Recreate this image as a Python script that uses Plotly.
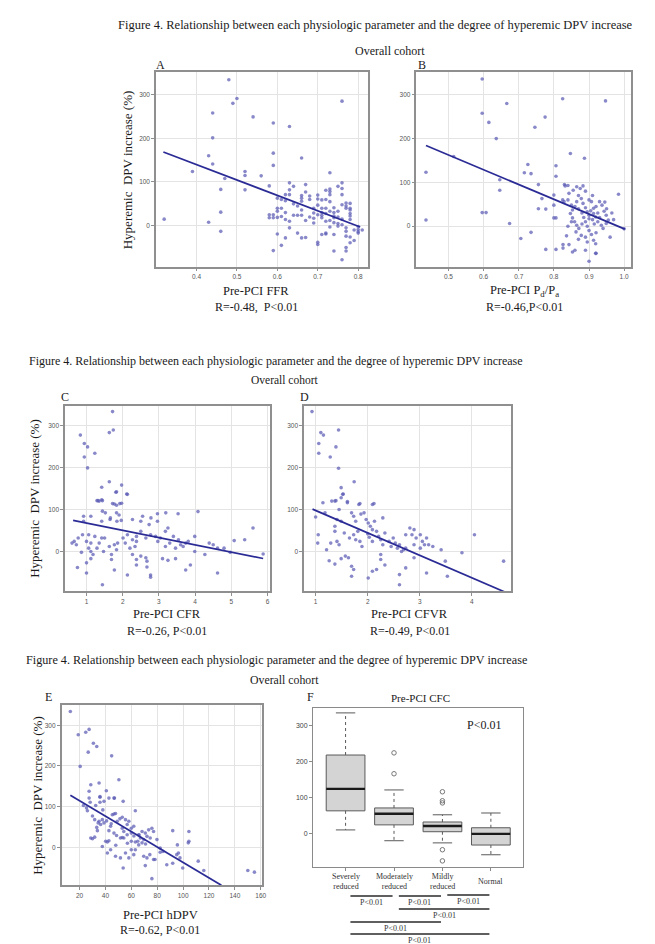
import plotly.graph_objects as go

# ======================= DATA =======================
# Panel A: Pre-PCI FFR vs hyperemic DPV increase (%)
A_x = [0.48,0.50,0.49,0.44,0.54,0.44,0.59,0.63,0.59,0.43,0.44,0.59,0.66,0.39,0.52,0.52,0.56,0.47,0.46,0.52,
       0.58,0.32,0.43,0.46,0.46,0.73,0.73,0.76,0.76,0.76,0.76,0.76,0.78,0.78,0.78,0.76,0.77,0.80,0.81,0.78,
       0.78,0.58,0.58,0.59,0.59,0.59,0.60,0.60,0.60,0.60,0.60,0.61,0.61,0.61,0.62,0.62,0.62,0.62,0.63,0.63,
       0.63,0.64,0.63,0.63,0.64,0.65,0.66,0.65,0.66,0.67,0.66,0.66,0.66,0.67,0.67,0.68,0.69,0.69,0.69,0.70,
       0.70,0.70,0.70,0.71,0.71,0.71,0.71,0.72,0.71,0.72,0.72,0.72,0.73,0.73,0.72,0.73,0.74,0.74,0.74,0.75,
       0.74,0.74,0.75,0.74,0.75,0.75,0.76,0.77,0.77,0.77,0.77,0.77,0.77,0.77,0.78,0.78,0.79,0.80,0.80,0.78,
       0.79,0.80,0.68,0.67,0.70,0.71,0.72,0.73,0.73,0.69,0.66,0.64,0.65,0.68,0.70,0.72,0.73,0.75,0.76,0.74,
       0.62,0.61]
A_y = [334,291,280,258,249,201,235,227,166,160,141,138,155,124,124,115,114,108,83,82,
       91,15,8,31,-13,121,84,285,98,85,71,48,51,36,28,2,-5,-9,-10,-26,
       -39,25,18,25,18,-57,63,40,33,19,-19,40,21,-45,71,57,14,-28,82,71,
       98,90,10,-5,24,24,24,-17,-28,-27,56,69,63,77,94,60,40,29,17,-38,
       -43,47,61,59,40,24,18,10,-20,-19,-17,81,78,71,40,33,22,18,7,-1,
       41,30,33,-58,90,5,-78,-24,-13,52,45,40,-50,-58,22,14,-10,-17,-2,40,
       -34,-14,20,12,25,30,28,12,-3,6,36,50,45,68,70,60,55,20,15,-20,
       30,60]

# Panel B: Pre-PCI Pd/Pa
B_x = [0.596,0.596,0.615,0.666,0.636,0.775,0.746,0.825,0.947,0.847,0.887,0.436,0.436,0.515,0.726,0.716,0.735,0.806,0.806,0.646,
       0.646,0.756,0.83,0.832,0.84,0.596,0.607,0.674,0.706,0.735,0.766,0.756,0.777,0.806,0.825,0.806,0.777,0.836,0.843,0.826,
       0.86,0.89,0.92,0.843,0.855,0.865,0.875,0.883,0.89,0.829,0.84,0.85,0.853,0.865,0.878,0.883,0.89,0.895,0.90,0.90,
       0.907,0.913,0.913,0.919,0.925,0.93,0.937,0.943,0.949,0.955,0.949,0.847,0.853,0.859,0.865,0.871,0.863,0.878,0.89,0.895,
       0.907,0.913,0.919,0.984,0.96,0.90,0.919,0.853,0.826,0.80,0.80,0.80,0.87,0.88,0.885,0.89,0.895,0.90,0.905,0.91,
       0.915,0.92,0.925,0.93,0.935,0.94,0.87,0.86,0.85,0.84,0.88,0.87,0.90,0.91,0.92,0.945,0.95,1.0,0.97,0.965]
B_y = [336,258,237,280,200,249,226,291,286,166,155,123,14,159,141,122,120,138,114,106,
       82,95,95,92,93,31,31,6,-28,-14,63,40,39,19,60,-53,-53,-22,-42,-42,
       -55,-55,-62,75,82,90,86,92,80,56,60,48,37,56,63,52,42,33,25,17,
       56,41,29,21,10,56,48,34,25,14,6,29,19,10,2,-5,-13,-21,-25,-36,
       -19,-32,-40,73,-25,-80,-62,-59,-50,19,48,71,40,30,20,10,0,-10,35,15,
       5,45,30,20,2,-5,70,45,10,0,5,-30,60,70,-15,55,40,-6,15,30]

# Panel C: Pre-PCI CFR
C_x = [1.72,0.83,1.63,1.74,0.94,1.03,1.23,0.94,1.03,1.63,1.97,1.42,1.81,2.11,1.32,1.42,1.72,1.92,1.29,1.35,
       1.44,1.44,1.52,1.83,2.13,1.77,1.83,1.97,0.92,0.92,1.12,1.83,1.90,1.66,1.42,1.65,1.84,1.96,2.27,2.50,
       2.73,2.96,2.96,3.19,3.53,2.55,2.78,0.89,1.06,1.23,0.77,0.66,1.00,1.12,0.60,0.72,0.86,1.06,1.12,1.18,
       1.12,1.29,1.35,1.42,1.50,1.47,1.63,1.77,1.86,1.69,1.69,1.83,2.01,2.13,2.27,2.38,2.07,2.20,2.34,2.38,
       2.50,2.64,2.77,2.91,2.97,2.27,2.50,2.64,2.38,2.67,2.38,2.67,2.77,2.77,2.13,1.44,1.00,1.00,0.75,1.77,
       3.04,3.18,3.25,3.40,3.54,3.60,3.18,3.30,3.46,3.67,3.74,3.10,3.25,3.46,3.74,3.81,3.99,3.99,3.87,4.27,
       4.39,4.50,4.08,4.62,4.62,4.97,5.08,5.37,5.60,5.88,4.80]
C_y = [334,278,284,290,258,250,235,226,200,167,159,154,142,138,122,124,115,115,122,121,
       122,97,93,143,137,114,111,116,85,73,85,93,88,81,73,77,73,75,77,73,
       65,91,73,93,91,85,81,41,41,37,33,25,25,21,21,17,-1,9,1,-6,
       -16,9,21,33,33,1,13,17,21,-6,-18,5,33,41,29,37,21,9,13,25,
       49,33,41,37,25,-6,-10,-14,-18,-22,-31,-36,-55,-60,-55,-78,-26,-50,-37,-43,
       33,49,57,37,29,17,13,21,9,13,21,-16,-20,-16,-43,25,37,1,-31,-6,
       21,17,96,9,-50,-1,27,29,57,-5,9]

# Panel D: Pre-PCI CFVR
D_x = [0.93,1.10,1.15,1.06,1.06,1.28,1.44,1.39,1.44,1.74,1.49,1.52,1.39,1.61,1.85,2.12,1.00,1.14,1.05,1.04,
       1.21,1.18,1.31,1.37,1.45,1.41,1.49,1.37,1.29,1.53,1.49,1.61,1.69,1.73,1.77,1.37,1.41,1.45,1.55,1.49,
       1.26,1.37,1.57,1.63,1.69,1.73,1.69,1.65,1.73,1.77,1.81,1.85,1.89,1.83,1.87,1.93,1.97,2.01,2.05,2.09,
       2.00,2.03,2.09,2.13,2.17,2.21,2.25,2.29,2.33,2.09,2.41,2.45,2.49,2.53,2.57,2.61,2.65,2.69,2.29,2.25,
       2.25,2.33,2.17,2.09,2.01,2.61,2.73,2.61,2.73,2.85,2.93,2.73,2.89,3.01,3.09,3.17,3.25,3.41,2.81,2.89,
       2.89,3.13,3.53,3.13,3.49,3.81,4.05,4.61,3.01,3.05]
D_y = [334,284,278,258,235,226,290,250,199,167,153,137,122,120,115,115,83,117,41,21,
       5,93,121,121,101,77,73,61,21,138,129,117,93,85,73,49,25,17,45,-16,
       -21,-29,-10,-14,-34,-42,-58,33,41,29,49,25,13,113,90,93,77,69,61,53,
       43,35,25,73,49,37,29,17,45,113,25,13,33,21,9,17,1,5,81,-6,
       -18,-31,-42,-46,-62,-54,-38,-78,41,41,33,9,17,9,17,17,13,5,57,53,
       -14,-50,-58,33,-22,-2,41,-22,41,25]

# Panel E: Pre-PCI hDPV
E_x = [12.9,19.0,24.8,27.4,26.7,30.7,33.3,20.5,44.8,50.4,28.7,35.1,40.7,47.0,27.4,27.4,28.2,35.8,42.7,53.7,
       35.8,38.9,25.4,26.1,30.0,31.7,23.0,32.5,35.1,36.3,37.6,38.9,40.9,44.0,42.7,33.3,33.8,34.4,28.7,30.0,
       31.7,37.6,40.2,41.5,42.7,45.3,46.6,47.8,46.6,48.6,51.6,53.0,54.2,49.1,51.2,53.0,55.5,56.8,58.1,63.1,
       53.0,54.2,56.8,60.0,60.0,60.0,61.9,63.1,63.1,65.0,65.7,67.0,68.3,69.6,65.7,68.3,70.8,72.1,74.6,73.4,
       75.9,77.2,79.8,60.0,61.9,58.1,55.5,51.6,47.8,41.5,44.0,53.7,69.6,72.1,74.3,77.2,78.3,70.8,75.9,82.3,
       82.3,84.5,87.4,92.0,95.1,96.4,97.6,99.7,92.0,95.6,104.5,104.5,104.0,111.7,116.0,150.0,155.1,35.8,46.6,57.0,
       62.0,48.0,66.0,71.0,38.0,44.5]
E_y = [334,277,283,290,234,256,248,199,225,166,154,158,139,121,138,121,111,125,121,113,
       111,113,97,90,77,68,103,103,64,56,68,60,65,52,41,49,41,60,23,21,
       25,2,15,13,16,80,82,83,35,29,23,24,23,64,70,74,68,56,64,90,
       47,39,31,35,15,47,52,-6,13,15,6,23,11,19,31,39,35,27,23,43,
       47,39,19,-6,-18,-26,-14,-26,-22,-14,-6,-51,-22,-26,-18,-30,-30,-45,-77,-2,
       -12,-10,-43,-39,-18,-14,-26,-51,41,6,39,15,11,-34,-57,-57,-61,123,121,10,
       28,5,30,8,92,58]

# Regression lines (slope, intercept, x-extent) for panels A-E
fit_slope = [-352.0, -337.0, -17.3, -53.4, -1.897]
fit_intercept = [280.5, 331.0, 86.0, 152.0, 152.5]
fit_x0 = [0.318, 0.436, 0.63, 0.94, 12.9]
fit_x1 = [0.805, 1.002, 5.88, 4.63, 129.6]

# Axis ticks
A_ticks = [0.4, 0.5, 0.6, 0.7, 0.8]
B_ticks = [0.5, 0.6, 0.7, 0.8, 0.9, 1.0]
C_ticks = [1, 2, 3, 4, 5, 6]
D_ticks = [1, 2, 3, 4]
E_ticks = [20, 40, 60, 80, 100, 120, 140, 160]
Y_ticks = [0, 100, 200, 300]

# Text
x_titles = ["Pre-PCI FFR", "Pre-PCI P<sub>d</sub>/P<sub>a</sub>", "Pre-PCI CFR", "Pre-PCI CFVR", "Pre-PCI hDPV"]
r_texts = ["R=-0.48,  P<0.01", "R=-0.46,P<0.01", "R=-0.26, P<0.01", "R=-0.49, P<0.01", "R=-0.62, P<0.01"]
panel_letters = ["A", "B", "C", "D", "E", "F"]

# Panel F: boxplot stats by CFC category
F_cats = ["Severely<br>reduced", "Moderately<br>reduced", "Mildly<br>reduced", "Normal"]
F_upper = [336, 122, 53, 58]
F_q3 = [219, 72, 33, 17]
F_med = [125, 56, 22, 0]
F_q1 = [64, 25, 6, -31]
F_lower = [11, -19, -25, -58]
F_out_cat = [2, 2, 3, 3, 3, 3, 3]
F_out_val = [225, 167, 117, 92, 86, -44, -75]
# pairwise comparisons (group i vs group j)
F_cmp_i = [1, 2, 3, 2, 1, 1]
F_cmp_j = [2, 3, 4, 4, 3, 4]
F_cmp_p = ["P<0.01"] * 6

# ======================= LAYOUT HELPERS =======================
W, H = 655, 944
def PX(x): return x / W
def PY(y): return 1 - y / H

SERIF = "Liberation Serif, Times New Roman, serif"
NARROW = "Liberation Sans Narrow, Arial Narrow, Liberation Sans, sans-serif"
SANS = "Liberation Sans, Arial, sans-serif"

fig = go.Figure()
ann = []
shapes = []

def text(x, y, s, size=12, family=SERIF, color="#1a1a1a", angle=0, xanchor="center", yanchor="middle"):
    ann.append(dict(x=PX(x), y=PY(y), xref="paper", yref="paper", text=s, showarrow=False,
                    font=dict(family=family, size=size, color=color), textangle=angle,
                    xanchor=xanchor, yanchor=yanchor))

scatter_panels = [
    dict(x=A_x, y=A_y, xd=(149, 362.5), yd=(64, 258.5), xr=(0.30, 0.825), yr=(-93.4, 351.7), xt=A_ticks, fmt="{:.1f}"),
    dict(x=B_x, y=B_y, xd=(411, 627), yd=(64, 258.5), xr=(0.409, 1.02), yr=(-92, 352), xt=B_ticks, fmt="{:.1f}"),
    dict(x=C_x, y=C_y, xd=(57.5, 264), yd=(397.7, 583), xr=(0.41, 6.08), yr=(-93, 348), xt=C_ticks, fmt="{}"),
    dict(x=D_x, y=D_y, xd=(298, 506), yd=(397.7, 583), xr=(0.78, 4.75), yr=(-93, 348), xt=D_ticks, fmt="{}"),
    dict(x=E_x, y=E_y, xd=(54, 256), yd=(697, 877.3), xr=(6.2, 161.3), yr=(-93.4, 350), xt=E_ticks, fmt="{}"),
]

axis_common = dict(showline=True, mirror=True, linecolor="#8f8f8f", linewidth=1.6,
                   showgrid=True, gridcolor="#e4e4e4", gridwidth=1, zeroline=False,
                   ticks="outside", ticklen=3, tickcolor="#8f8f8f", tickwidth=1,
                   tickfont=dict(family=NARROW, size=6.5, color="#555555"), fixedrange=True)

layout_axes = {}
for i, p in enumerate(scatter_panels, start=1):
    sfx = "" if i == 1 else str(i)
    fig.add_trace(go.Scatter(x=p["x"], y=p["y"], mode="markers",
                             marker=dict(size=3.6, color="rgba(92,92,182,0.72)"),
                             xaxis="x" + sfx, yaxis="y" + sfx, showlegend=False, hoverinfo="skip"))
    k = i - 1
    fx = [fit_x0[k], fit_x1[k]]
    fy = [fit_intercept[k] + fit_slope[k] * v for v in fx]
    fig.add_trace(go.Scatter(x=fx, y=fy, mode="lines", line=dict(color="#2b2b96", width=1.7),
                             xaxis="x" + sfx, yaxis="y" + sfx, showlegend=False, hoverinfo="skip"))
    layout_axes["xaxis" + sfx] = dict(axis_common, domain=[PX(p["xd"][0]), PX(p["xd"][1])], range=list(p["xr"]),
                                      tickvals=p["xt"], ticktext=[p["fmt"].format(v) for v in p["xt"]],
                                      anchor="y" + sfx)
    layout_axes["yaxis" + sfx] = dict(axis_common, domain=[PY(p["yd"][1]), PY(p["yd"][0])], range=list(p["yr"]),
                                      tickvals=Y_ticks, ticktext=[str(v) for v in Y_ticks],
                                      anchor="x" + sfx)

# ---- Panel F: boxplots drawn from stats ----
hw, cw = 0.4, 0.2
for g in range(len(F_cats)):
    c = g + 1
    fig.add_trace(go.Scatter(x=[c - hw, c + hw, c + hw, c - hw, c - hw],
                             y=[F_q1[g], F_q1[g], F_q3[g], F_q3[g], F_q1[g]],
                             mode="lines", fill="toself", fillcolor="#d4d4d4",
                             line=dict(color="#5a5a5a", width=1), xaxis="x6", yaxis="y6",
                             showlegend=False, hoverinfo="skip"))
    for a, b in [(F_q3[g], F_upper[g]), (F_q1[g], F_lower[g])]:
        fig.add_trace(go.Scatter(x=[c, c], y=[a, b], mode="lines",
                                 line=dict(color="#5a5a5a", width=1, dash="dot"),
                                 xaxis="x6", yaxis="y6", showlegend=False, hoverinfo="skip"))
    for v in (F_upper[g], F_lower[g]):
        fig.add_trace(go.Scatter(x=[c - cw, c + cw], y=[v, v], mode="lines",
                                 line=dict(color="#5a5a5a", width=1),
                                 xaxis="x6", yaxis="y6", showlegend=False, hoverinfo="skip"))
    fig.add_trace(go.Scatter(x=[c - hw, c + hw], y=[F_med[g], F_med[g]], mode="lines",
                             line=dict(color="#1a1a1a", width=2.4),
                             xaxis="x6", yaxis="y6", showlegend=False, hoverinfo="skip"))
fig.add_trace(go.Scatter(x=F_out_cat, y=F_out_val, mode="markers",
                         marker=dict(symbol="circle-open", size=4.5, color="#777777", line=dict(width=1)),
                         xaxis="x6", yaxis="y6", showlegend=False, hoverinfo="skip"))

layout_axes["xaxis6"] = dict(domain=[PX(307), PX(518)], range=[0.33, 4.66], anchor="y6",
                             showline=True, mirror=True, linecolor="#8a8a8a", linewidth=1.2,
                             showgrid=False, zeroline=False, ticks="outside", ticklen=3,
                             tickcolor="#8a8a8a", tickvals=[1, 2, 3, 4], showticklabels=False, fixedrange=True)
layout_axes["yaxis6"] = dict(domain=[PY(859), PY(699.5)], range=[-92, 351], anchor="x6",
                             showline=True, mirror=True, linecolor="#8a8a8a", linewidth=1.2,
                             showgrid=False, zeroline=False, ticks="outside", ticklen=3,
                             tickcolor="#8a8a8a", tickvals=Y_ticks, ticktext=[str(v) for v in Y_ticks],
                             tickfont=dict(family=SANS, size=7, color="#444444"), fixedrange=True)

# category labels under panel F
for g, lab in enumerate(F_cats):
    ann.append(dict(x=g + 1, y=PY(873), xref="x6", yref="paper", text=lab, showarrow=False,
                    font=dict(family=SERIF, size=8, color="#333333"), xanchor="center", yanchor="middle"))

# significance bars
bar_y = [888, 888, 887, 901, 914, 926]
for n in range(len(F_cmp_i)):
    i, j = F_cmp_i[n], F_cmp_j[n]
    x0 = i + 0.1
    x1 = j - 0.03
    yb = bar_y[n]
    shapes.append(dict(type="line", xref="x6", yref="paper", x0=x0, x1=x1, y0=PY(yb), y1=PY(yb),
                       line=dict(color="#2a2a2a", width=1.4)))
    ann.append(dict(x=(x0 + x1) / 2, y=PY(yb + 6), xref="x6", yref="paper", text=F_cmp_p[n], showarrow=False,
                    font=dict(family=SERIF, size=8, color="#333333"), xanchor="center", yanchor="middle",
                    borderpad=0))

# ---- Text ----
fig_title = "Figure 4. Relationship between each physiologic parameter and the degree of hyperemic DPV increase"
text(370, 17, fig_title, size=12.5)
text(384, 43, "Overall cohort", size=12)
text(270, 353, fig_title, size=12)
text(279, 372, "Overall cohort", size=11.5)
text(270, 652, fig_title, size=12.2)
text(278, 672, "Overall cohort", size=11.8)

letter_pos = [(153, 57), (417, 57), (57, 389), (298, 389), (41, 689), (304, 689)]
for (lx, ly), L in zip(letter_pos, panel_letters):
    text(lx, ly, L, size=12)

xt_pos = [(250, 283, 299), (520, 283, 299), (160, 606, 623), (404, 606, 623), (153, 907, 922)]
for k, (cx, y1, y2) in enumerate(xt_pos):
    text(cx, y1, x_titles[k], size=12.5)
    text(cx, y2, r_texts[k], size=12)

ytitle = "Hyperemic  DPV increase (%)"
text(120, 162, ytitle, size=13, angle=-90)
text(27, 490, ytitle, size=13, angle=-90)
text(29, 787, ytitle, size=13, angle=-90)

text(415, 690, "Pre-PCI CFC", size=11)
text(479, 717, "P<0.01", size=12)

fig.update_layout(width=W, height=H, autosize=False, margin=dict(l=0, r=0, t=0, b=0),
                  paper_bgcolor="white", plot_bgcolor="white", showlegend=False,
                  annotations=ann, shapes=shapes, **layout_axes)

fig.write_html("out.html")
